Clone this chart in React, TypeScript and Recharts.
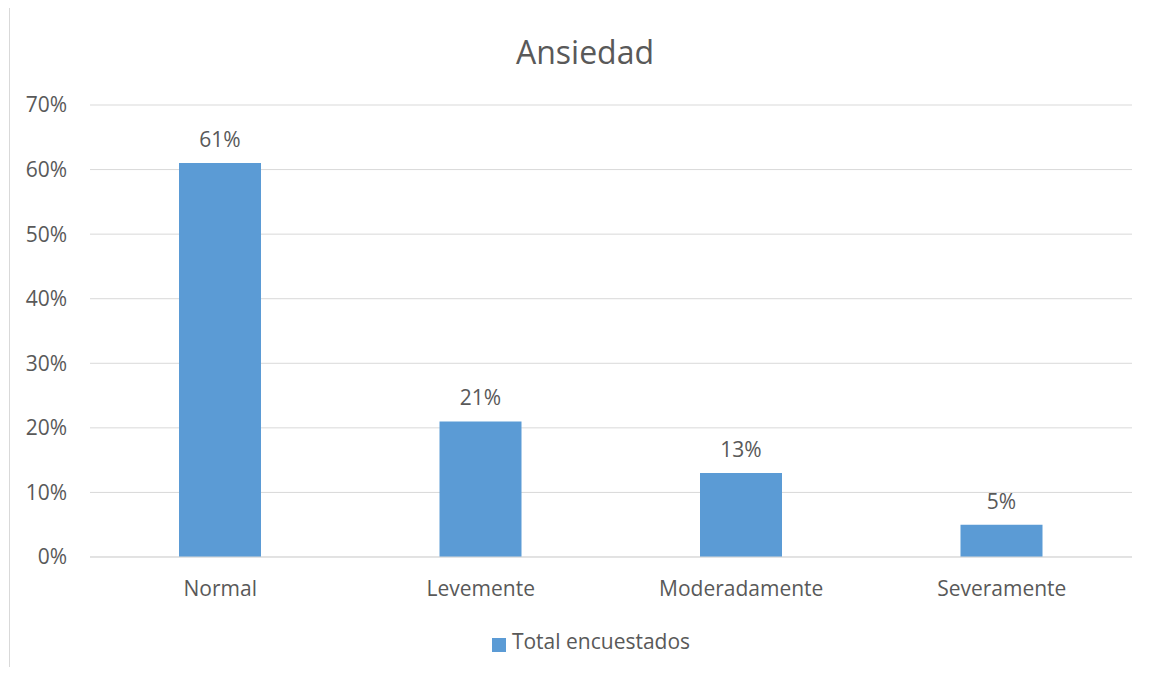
import React from "react";
import { BarChart, Bar, XAxis, YAxis, CartesianGrid, Legend, LabelList } from "recharts";

const categories = ["Normal", "Levemente", "Moderadamente", "Severamente"];
const values = [0.61, 0.21, 0.13, 0.05];
const yTicks = [0, 0.1, 0.2, 0.3, 0.4, 0.5, 0.6, 0.7];
const seriesName = "Total encuestados";
const title = "Ansiedad";

const data = categories.map((c, i) => ({ name: c, value: values[i] }));

const FONT = "'Open Sans', sans-serif";
const TEXT = "#595959";
const BLUE = "#5B9BD5";

const pct = (v: number) => `${Math.round(v * 100)}%`;

export default function App() {
  return (
    <div style={{ position: "relative", margin: -8, width: 1160, height: 675, overflow: "hidden", background: "#fff", fontFamily: FONT }}>
      <div style={{ position: "absolute", left: 9, top: 7, width: 1200, height: 720, border: "1px solid #d9d9d9", boxSizing: "border-box" }} />
      <div style={{ position: "absolute", left: 0, top: 33, width: 1170, textAlign: "center", fontSize: 32, color: TEXT, lineHeight: "38px" }}>{title}</div>
      <div style={{ position: "absolute", left: 0, top: 0 }}>
        <BarChart width={1160} height={675} data={data} margin={{ top: 105, right: 28, left: 30, bottom: 50 }}>
          <CartesianGrid vertical={false} stroke="#d9d9d9" strokeWidth={1} />
          <XAxis
            dataKey="name"
            axisLine={{ stroke: "#d9d9d9" }}
            tickLine={false}
            tick={{ fill: TEXT, fontSize: 21, fontFamily: FONT }}
            tickMargin={18}
            height={40}
          />
          <YAxis
            domain={[0, 0.7]}
            ticks={yTicks}
            tickFormatter={pct}
            axisLine={false}
            tickLine={false}
            tickSize={0}
            tickMargin={23}
            width={60}
            tick={{ fill: TEXT, fontSize: 21, fontFamily: FONT }}
          />
          <Legend
            verticalAlign="bottom"
            align="center"
            iconType="square"
            iconSize={14}
            wrapperStyle={{ bottom: 20, paddingLeft: 15 }}
            formatter={(v: string) => <span style={{ color: TEXT, fontSize: 21, fontFamily: FONT, marginLeft: 2 }}>{v}</span>}
          />
          <Bar dataKey="value" name={seriesName} fill={BLUE} barSize={82} isAnimationActive={false}>
            <LabelList dataKey="value" position="top" offset={16} formatter={(v: any) => pct(Number(v))} style={{ fill: TEXT, fontSize: 21, fontFamily: FONT }} />
          </Bar>
        </BarChart>
      </div>
    </div>
  );
}
